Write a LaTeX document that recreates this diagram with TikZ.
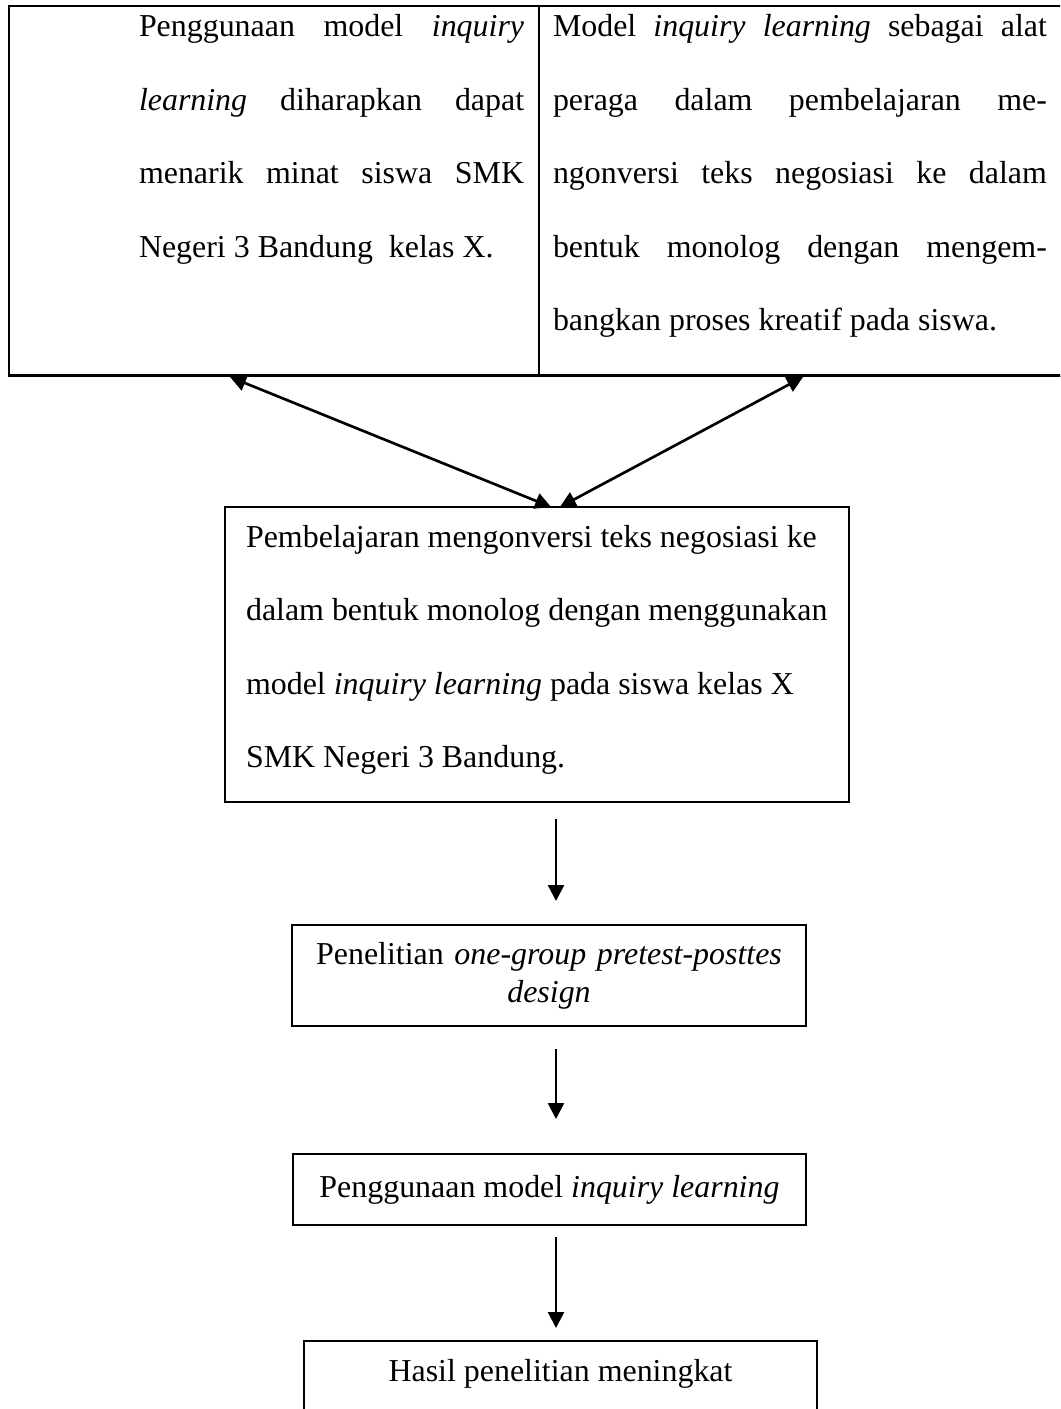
\documentclass[tikz,border=0pt]{standalone}
\usepackage{fontspec}
\setmainfont{Liberation Serif}
\usetikzlibrary{arrows.meta}
% justified line of a table cell
\newcommand{\jline}[2]{\makebox[#1][s]{\spaceskip=0.25em plus 1fil\relax #2}}

\begin{document}
\begin{tikzpicture}[x=0.376pt,y=-0.376pt,inner sep=0pt,outer sep=0pt,
>={Triangle[length=6pt,width=6pt]},
cell/.style={draw,rectangle,line width=0.75pt,anchor=north west,minimum height=139.1pt},
celltext/.style={anchor=base west,align=left,font=\fontsize{12pt}{27.6pt}\selectfont},
flowbox/.style={draw,rectangle,line width=0.5pt,align=center,font=\fontsize{12pt}{14.3pt}\selectfont},
flowarrow/.style={->,line width=0.9pt}]
\useasboundingbox (0,0) rectangle (1060,1409);
\clip (0,0) rectangle (1060,1409);
% table at the top
\draw (9,6) node[cell,minimum width=199.3pt] (leftcell) {};
\draw (539,6) node[cell,minimum width=201.5pt] (rightcell) {};
\draw[line width=1.1pt] (leftcell.south west) -- (rightcell.south east);
\draw (139,37) node[celltext,text width=144.8pt] (lefttext) {\spaceskip=0pt\relax
\jline{144.8pt}{Penggunaan model \textit{inquiry}}\\
\jline{144.8pt}{\textit{learning} diharapkan dapat}\\
\jline{144.8pt}{menarik minat siswa SMK}\\
Negeri 3 Bandung\ \ kelas X.};
\draw (553,37) node[celltext,text width=185.7pt] (righttext) {\spaceskip=0pt\relax
\jline{185.7pt}{Model \textit{inquiry learning} sebagai alat}\\
\jline{185.7pt}{peraga dalam pembelajaran me-}\\
\jline{185.7pt}{ngonversi teks negosiasi ke dalam}\\
\jline{185.7pt}{bentuk monolog dengan mengem-}\\
bangkan proses kreatif pada siswa.};
% flow boxes
\draw (537,654.5) node[flowbox,align=left,font=\fontsize{12pt}{27.6pt}\selectfont,
  text width=218.8pt,inner xsep=7.9pt,minimum width=234.6pt,minimum height=110.9pt] (learning) {\spaceskip=0pt\relax
\mbox{Pembelajaran mengonversi teks negosiasi ke}\\
\mbox{dalam bentuk monolog dengan menggunakan}\\
\mbox{model \textit{inquiry learning} pada siswa kelas X}\\
\mbox{SMK Negeri 3 Bandung.}\rule[-6pt]{0pt}{6pt}};
\draw (549,975.5) node[flowbox,text width=190pt,minimum width=193.3pt,minimum height=38pt] (design) {%
Penelitian \textit{one-group pretest-posttes}\\ \textit{design}};
\draw (549.5,1189.5) node[flowbox,minimum width=192.9pt,minimum height=26.7pt] (usage) {%
Penggunaan model \textit{inquiry learning}};
\draw (560.5,1381) node[flowbox,anchor=base,text height=15pt,text depth=30pt,minimum width=192.9pt] (result) {%
Hasil penelitian meningkat};
% connectors
\coordinate (lefttip) at (230,377);
\coordinate (righttip) at (803,377);
\draw[<->,line width=1pt] (lefttip) -- ([xshift=5.3pt]learning.north);
\draw[<->,line width=1pt] (righttip) -- ([xshift=8.6pt]learning.north);
\coordinate (a1) at (556,819);
\coordinate (a1tip) at (556,901);
\coordinate (a2) at (556,1049);
\coordinate (a2tip) at (556,1119);
\coordinate (a3) at (556,1237);
\coordinate (a3tip) at (556,1328);
\draw[flowarrow] (a1) -- (a1tip);
\draw[flowarrow] (a2) -- (a2tip);
\draw[flowarrow] (a3) -- (a3tip);
\end{tikzpicture}
\end{document}
